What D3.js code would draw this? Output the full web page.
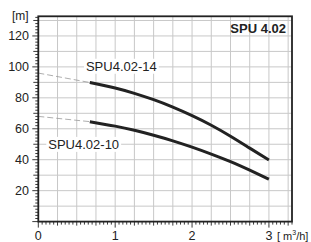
<!DOCTYPE html>
<html><head><meta charset="utf-8">
<script src="https://cdn.jsdelivr.net/npm/d3@7/dist/d3.min.js"></script>
<style>body{margin:0;background:#fff}svg{display:block;font-family:"Liberation Sans",Arial,sans-serif}</style>
</head><body><svg id="c" width="311" height="242"></svg>
<script>
const title = "SPU 4.02";
const yUnit = "[m]";
const xTicks = [0, 1, 2, 3];
const yTicks = [20, 40, 60, 80, 100, 120];
const q14 = [0.67, 1.0, 1.25, 1.5, 1.75, 2.0, 2.25, 2.5, 2.75, 3.0];
const h14 = [89.9, 86.4, 82.9, 78.8, 74.0, 68.5, 62.3, 55.2, 47.5, 39.8];
const q10 = [0.67, 1.0, 1.25, 1.5, 1.75, 2.0, 2.25, 2.5, 2.75, 3.0];
const h10 = [64.6, 61.7, 59.0, 55.8, 52.2, 48.1, 43.6, 38.7, 33.2, 27.4];
const ext14Q = [0, 0.67], ext14H = [96, 89.9];
const ext10Q = [0, 0.67], ext10H = [68, 64.6];
const labels = [{t:"SPU4.02-14", q:0.62, h:97.5}, {t:"SPU4.02-10", q:0.13, h:47}];

const svg = d3.select("#c");
const L = 38.3, R = 292, T = 16.3, B = 221.6;
const x = d3.scaleLinear().domain([0, 3.3]).range([L, R]);
const y = d3.scaleLinear().domain([0, 132.7]).range([B, T]);

// grid
const g = svg.append("g");
g.selectAll(".vg").data(d3.range(0.25, 3.3, 0.25)).enter().append("line")
  .attr("x1", d=>x(d)).attr("x2", d=>x(d)).attr("y1", T).attr("y2", B)
  .attr("stroke", "#c8c8c8").attr("stroke-width", 1);
g.selectAll(".hg").data(d3.range(10, 132, 10)).enter().append("line")
  .attr("x1", L).attr("x2", R).attr("y1", d=>y(d)).attr("y2", d=>y(d))
  .attr("stroke", "#c8c8c8").attr("stroke-width", 1);

// minor ticks
const xt = svg.append("g");
xt.selectAll("line").data(d3.range(0, 3.31, 0.05)).enter().append("line")
  .attr("x1", d=>x(d)).attr("x2", d=>x(d)).attr("y1", B)
  .attr("y2", d=> Math.abs(d - Math.round(d)) < 1e-6 ? B+6 : (Math.abs(d*4 - Math.round(d*4)) < 1e-6 ? B+4 : B+3))
  .attr("stroke", "#222").attr("stroke-width", 0.9);
const yt = svg.append("g");
yt.selectAll("line").data(d3.range(0, 133, 2)).enter().append("line")
  .attr("y1", d=>y(d)).attr("y2", d=>y(d)).attr("x1", L)
  .attr("x2", d=> d % 20 === 0 ? L-6 : (d % 10 === 0 ? L-5 : L-3))
  .attr("stroke", "#222").attr("stroke-width", 0.9);

// dashed extensions
const line = d3.line().x(d=>x(d[0])).y(d=>y(d[1]));
const smooth = d3.line().x(d=>x(d[0])).y(d=>y(d[1])).curve(d3.curveNatural);
[[ext14Q, ext14H], [ext10Q, ext10H]].forEach(([qs, hs]) => {
  svg.append("path").attr("d", line(qs.map((q,i)=>[q, hs[i]])))
    .attr("fill", "none").attr("stroke", "#999").attr("stroke-width", 0.8)
    .attr("stroke-dasharray", "6,3");
});

// labels with white backgrounds
labels.forEach(l => {
  const t = svg.append("text").attr("x", x(l.q)).attr("y", y(l.h))
    .attr("font-size", 13).attr("fill", "#222").text(l.t);
  const bb = t.node().getBBox();
  svg.insert("rect", "text").attr("x", bb.x - 2).attr("y", bb.y).attr("width", bb.width + 4)
    .attr("height", bb.height).attr("fill", "#fff");
});

// curves
[[q14, h14], [q10, h10]].forEach(([qs, hs]) => {
  svg.append("path").attr("d", smooth(qs.map((q,i)=>[q, hs[i]])))
    .attr("fill", "none").attr("stroke", "#222").attr("stroke-width", 3)
    .attr("stroke-linecap", "butt");
});

// frame
svg.append("rect").attr("x", L).attr("y", T).attr("width", R-L).attr("height", B-T)
  .attr("fill", "none").attr("stroke", "#222").attr("stroke-width", 1.8);

// axis labels
svg.selectAll(".yl").data(yTicks).enter().append("text")
  .attr("x", 29).attr("y", d=>y(d)+4.5).attr("text-anchor", "end")
  .attr("font-size", 12.5).attr("fill", "#222").text(d=>d);
svg.selectAll(".xl").data(xTicks).enter().append("text")
  .attr("x", d=>x(d)).attr("y", 239.5).attr("text-anchor", "middle")
  .attr("font-size", 12.5).attr("fill", "#222").text(d=>d);
const u = svg.append("text").attr("x", 277).attr("y", 239.5).attr("font-size", 11).attr("fill", "#222");
u.append("tspan").text("[ m");
u.append("tspan").attr("font-size", 7).attr("dy", -4.5).text("3");
u.append("tspan").attr("dy", 4.5).text("/h]");
svg.append("text").attr("x", 12).attr("y", 20).attr("font-size", 12).attr("fill", "#222").text(yUnit);
svg.append("text").attr("x", 286).attr("y", 33).attr("text-anchor", "end")
  .attr("font-size", 13).attr("font-weight", "bold").attr("fill", "#222").text(title);
</script></body></html>
